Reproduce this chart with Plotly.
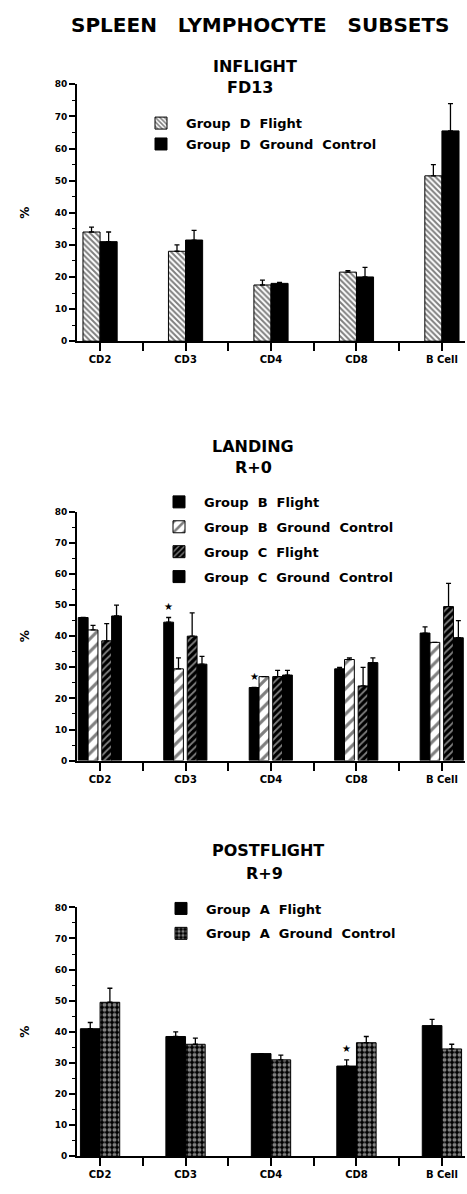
import plotly.graph_objects as go

W, H = 467, 1194
categories = ["CD2", "CD3", "CD4", "CD8", "B Cell"]
y_ticks = [0, 10, 20, 30, 40, 50, 60, 70, 80]

# Panel 1: INFLIGHT FD13
d_flight = [34, 28, 17.5, 21.5, 51.5]
d_flight_sem = [1.5, 2, 1.5, 0.5, 3.5]
d_ground = [31, 31.5, 18, 20, 65.5]
d_ground_sem = [3, 3, 0.3, 3, 8.5]

# Panel 2: LANDING R+0
b_flight = [46, 44.5, 23.5, 29.5, 41]
b_flight_sem = [0, 1.5, 0, 0.5, 2]
b_ground = [42, 29.5, 27, 32.5, 38]
b_ground_sem = [1.5, 3.5, 0, 0.5, 0]
c_flight = [38.5, 40, 27, 24, 49.5]
c_flight_sem = [5.5, 7.5, 2, 6, 7.5]
c_ground = [46.5, 31, 27.5, 31.5, 39.5]
c_ground_sem = [3.5, 2.5, 1.5, 1.5, 5.5]

# Panel 3: POSTFLIGHT R+9
a_flight = [41, 38.5, 33, 29, 42]
a_flight_sem = [2, 1.5, 0, 2, 2]
a_ground = [49.5, 36, 31, 36.5, 34.5]
a_ground_sem = [4.5, 2, 1.5, 2, 1.5]

# significance markers: (panel, series index, category index)
stars = [(2, 0, 1), (2, 0, 2), (3, 0, 3)]

def xp(px):
    return px / W

def yp(px):
    return 1 - px / H

FONT = "DejaVu Sans"
NB = "\u00a0"

def sp(s, n=2):
    return s.replace(" ", NB * n)

xi = list(range(len(categories)))

BLACK = dict(color="black", line=dict(color="black", width=1))

def pat(shape, fg, bg, size, sol):
    return dict(color=bg, line=dict(color="black", width=1),
                pattern=dict(shape=shape, fgcolor=fg, bgcolor=bg, size=size,
                             solidity=sol, fillmode="overlay"))

panels = [
    dict(xa="x", ya="y", legend="legend",
         series=[("Group D Flight", d_flight, d_flight_sem, pat("\\", "black", "white", 4, 0.5)),
                 ("Group D Ground Control", d_ground, d_ground_sem, BLACK)],
         edges=[-0.2, 0.0], width=0.2),
    dict(xa="x2", ya="y2", legend="legend2",
         series=[("Group B Flight", b_flight, b_flight_sem, BLACK),
                 ("Group B Ground Control", b_ground, b_ground_sem, pat("/", "black", "white", 9, 0.35)),
                 ("Group C Flight", c_flight, c_flight_sem, pat("/", "white", "black", 5, 0.35)),
                 ("Group C Ground Control", c_ground, c_ground_sem, BLACK)],
         edges=[-0.255, -0.14, 0.02, 0.135], width=0.115),
    dict(xa="x3", ya="y3", legend="legend3",
         series=[("Group A Flight", a_flight, a_flight_sem, BLACK),
                 ("Group A Ground Control", a_ground, a_ground_sem, pat(".", "white", "black", 5, 0.5))],
         edges=[-0.23, 0.0], width=0.23),
]

fig = go.Figure()
for pi, p in enumerate(panels):
    for si, (name, vals, sem, marker) in enumerate(p["series"]):
        fig.add_trace(go.Bar(
            x=xi, y=vals, name=f"<b>{sp(name, 2)}</b>", marker=marker,
            width=p["width"], offset=p["edges"][si], cliponaxis=False,
            error_y=dict(type="data", symmetric=False, array=sem,
                         arrayminus=[0] * len(sem), color="black",
                         thickness=1.3, width=2.5),
            xaxis=p["xa"], yaxis=p["ya"], legend=p["legend"],
            legendgroup=f"p{pi}s{si}", showlegend=True,
        ))

for (panel, si, ci) in stars:
    p = panels[panel - 1]
    name, vals, sem, _ = p["series"][si]
    fig.add_annotation(
        x=ci + p["edges"][si] + p["width"] / 2, y=vals[ci] + sem[ci] + 1.2,
        xref=p["xa"], yref=p["ya"], text="★", showarrow=False,
        yanchor="bottom", font=dict(family=FONT, size=10, color="black"))

x_dom = [xp(77), xp(465)]
y_doms = [[yp(339), yp(80)], [yp(762), yp(511)], [yp(1161), yp(910)]]

axis_font = dict(family=FONT, size=9, color="black")
for i in range(3):
    sfx = "" if i == 0 else str(i + 1)
    fig.update_layout(**{
        f"xaxis{sfx}": dict(
            domain=x_dom, range=[-0.27, 4.27], anchor=f"y{sfx}",
            tickmode="array", tickvals=xi,
            ticktext=[f"<b>{c}</b>" for c in categories],
            ticks="outside", ticklen=8, tickwidth=1.5, tickcolor="black",
            showline=True, linecolor="black", linewidth=2,
            showgrid=False, zeroline=False,
            tickfont=dict(family=FONT, size=10, color="black"),
            minor=dict(tick0=0.5, dtick=1, ticks="outside", ticklen=8,
                       tickwidth=1.5, tickcolor="black", showgrid=False),
        ),
        f"yaxis{sfx}": dict(
            domain=y_doms[i], range=[0, 80], anchor=f"x{sfx}",
            tickmode="array", tickvals=y_ticks,
            ticktext=[f"<b>{t}</b>" for t in y_ticks],
            ticks="outside", ticklen=6, tickwidth=1.5, tickcolor="black",
            showline=True, linecolor="black", linewidth=2,
            showgrid=False, zeroline=False, tickfont=axis_font,
            minor=dict(dtick=5, ticks="outside", ticklen=3, tickwidth=1.2,
                       tickcolor="black", showgrid=False),
            title=dict(text="<b>%</b>", standoff=22,
                       font=dict(family=FONT, size=12, color="black")),
        ),
    })

legend_font = dict(family=FONT, size=13, color="black")
fig.update_layout(
    legend=dict(x=xp(136), y=yp(104), xanchor="left", yanchor="top",
                font=legend_font, tracegroupgap=1, itemwidth=40,
                bgcolor="rgba(0,0,0,0)"),
    legend2=dict(x=xp(154), y=yp(486), xanchor="left", yanchor="top",
                 font=legend_font, tracegroupgap=5, itemwidth=40,
                 bgcolor="rgba(0,0,0,0)"),
    legend3=dict(x=xp(156), y=yp(896), xanchor="left", yanchor="top",
                 font=legend_font, tracegroupgap=5, itemwidth=40,
                 bgcolor="rgba(0,0,0,0)"),
)

titles = [
    (sp("SPLEEN LYMPHOCYTE SUBSETS", 3), 260, 20, 20),
    ("INFLIGHT", 255, 62, 16), ("FD13", 250, 83, 16),
    ("LANDING", 253, 445, 16), ("R+0", 253, 466, 16),
    ("POSTFLIGHT", 268, 853, 16), ("R+9", 264, 876, 16),
]
for text, x, y, s in titles:
    fig.add_annotation(x=xp(x), y=yp(y), xref="paper", yref="paper",
                       text=f"<b>{text}</b>", showarrow=False,
                       xanchor="center", yanchor="middle",
                       font=dict(family=FONT, size=s, color="black"))

fig.update_layout(
    width=W, height=H, margin=dict(l=0, r=0, t=0, b=0),
    paper_bgcolor="white", plot_bgcolor="white",
    barmode="overlay", showlegend=True,
)

fig.write_html(
    "out.html",
    config={"displayModeBar": False},
    post_script=(
        "document.body.style.margin='0';document.body.style.overflow='hidden';"
        "var g=document.getElementsByClassName('plotly-graph-div')[0];"
        "g.style.position='fixed';g.style.top='0px';g.style.left='0px';"
    ),
)
